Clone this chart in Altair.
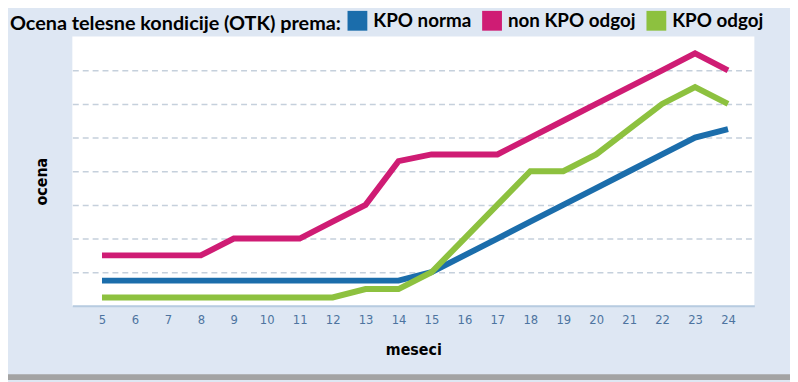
import altair as alt
import pandas as pd

months = list(range(5, 25))
series_names = ["KPO norma", "non KPO odgoj", "KPO odgoj"]
kpo_norma = [0.75, 0.75, 0.75, 0.75, 0.75, 0.75, 0.75, 0.75, 0.75, 0.75,
             1.0, 1.5, 2.0, 2.5, 3.0, 3.5, 4.0, 4.5, 5.0, 5.25]
non_kpo_odgoj = [1.5, 1.5, 1.5, 1.5, 2.0, 2.0, 2.0, 2.5, 3.0, 4.3,
                 4.5, 4.5, 4.5, 5.0, 5.5, 6.0, 6.5, 7.0, 7.5, 7.0]
kpo_odgoj = [0.25, 0.25, 0.25, 0.25, 0.25, 0.25, 0.25, 0.25, 0.5, 0.5,
             1.0, 2.0, 3.0, 4.0, 4.0, 4.5, 5.25, 6.0, 6.5, 6.0]
colors = ["#1b6dab", "#cf1c74", "#8dc13f"]

rows = []
for name, vals in zip(series_names, [kpo_norma, non_kpo_odgoj, kpo_odgoj]):
    for m, v in zip(months, vals):
        rows.append({"mesec": m, "ocena": v, "serija": name})
df = pd.DataFrame(rows)

W, H = 689, 272
COND = "DejaVu Sans Condensed, Liberation Sans, sans-serif"

lines = alt.Chart(df).mark_line(strokeWidth=6, strokeJoin="miter", strokeCap="butt").encode(
    x=alt.X("mesec:Q",
            scale=alt.Scale(domain=[4.1, 24.8], nice=False, zero=False),
            axis=alt.Axis(values=months, title="meseci", grid=False, ticks=False,
                          domainColor="#b7cbe0", domainWidth=2,
                          labelFont=COND, labelFontSize=13,
                          labelColor="#4d74a0", labelPadding=8,
                          titleFont=COND, titleFontSize=16,
                          titleFontWeight="bold", titleColor="#000000", titlePadding=15)),
    y=alt.Y("ocena:Q",
            scale=alt.Scale(domain=[0, 8], nice=False),
            axis=alt.Axis(values=[1, 2, 3, 4, 5, 6, 7], labels=False, ticks=False, domain=False,
                          grid=True, gridColor="#c5d0dc", gridDash=[6, 4], gridWidth=1.5,
                          title="ocena", titleFont=COND, titleFontSize=16,
                          titleFontWeight="bold", titleColor="#000000",
                          titleX=-31, titleY=146, titleAngle=-90,
                          titleAlign="center", titleBaseline="middle")),
    color=alt.Color("serija:N",
                    scale=alt.Scale(domain=series_names, range=colors),
                    sort=series_names,
                    legend=alt.Legend(title=None,
                                      orient="none", legendX=278, legendY=-26,
                                      direction="horizontal",
                                      labelFont="Lato", labelFontSize=19, labelFontWeight="bold",
                                      labelColor="#000000", labelOffset=6, labelLimit=300,
                                      symbolType="square", symbolSize=100, symbolStrokeWidth=10,
                                      columnPadding=-5, gridAlign="each")),
    order=alt.Order("mesec:Q"),
)

shadow = alt.Chart(pd.DataFrame({"k": [0]})).mark_rect(color="#a3a3a3").encode(
    x=alt.value(-65), x2=alt.value(W + 36),
    y=alt.value(H + 69), y2=alt.value(H + 75),
)

chart = alt.layer(lines, shadow).properties(
    width=W, height=H,
    background="#dee7f3",
    padding={"left": 65, "top": 27, "right": 36, "bottom": 75},
    autosize=alt.AutoSizeParams(type="none"),
    title=alt.TitleParams("Ocena telesne kondicije (OTK) prema:", anchor="start", frame="group",
                          font="Lato", fontSize=20, fontWeight="bold", color="#000000",
                          baseline="alphabetic", offset=12, dx=-63, dy=51),
).configure_view(fill="#ffffff", stroke=None)

chart.save("out.html", embed_options={"renderer": "svg", "actions": False})
